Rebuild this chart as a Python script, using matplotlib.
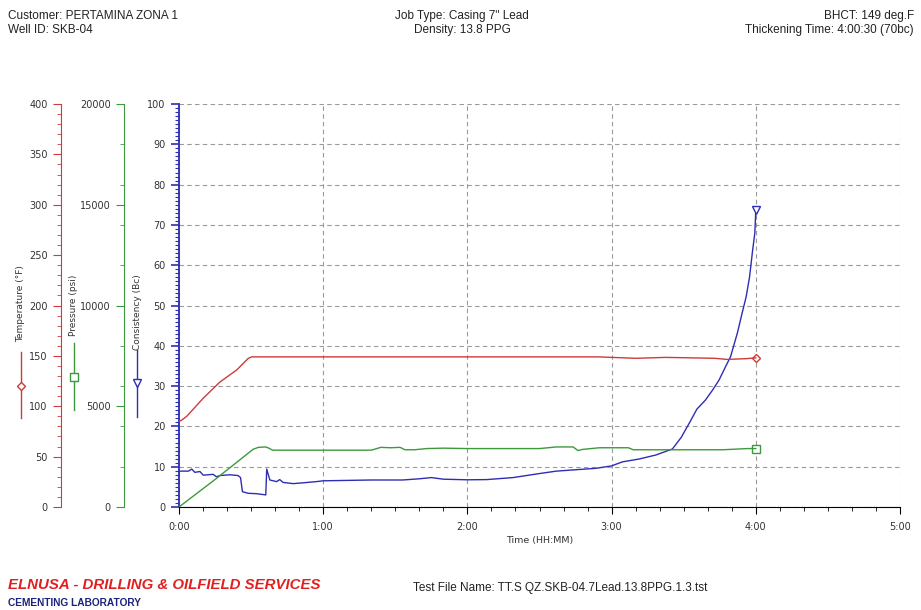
import matplotlib
matplotlib.use('Agg')
import matplotlib.pyplot as plt
from matplotlib.ticker import MultipleLocator, FuncFormatter
from matplotlib.lines import Line2D

# ── Data (time in minutes) ────────────────────────────────────────────────
cons_t = [0, 3.9, 5.3, 6.6, 8.7, 10.1, 14.2, 15.6, 17, 21.2, 24.6, 25.6, 26.4,
          28.8, 32.3, 36.1, 36.5, 37.8, 40.6, 41.9, 43.3, 47.5, 51.6, 57.2, 60,
          70, 80, 93, 100, 105, 110, 120, 128, 139, 150, 157, 164, 173.5, 180,
          184.5, 191.4, 198.4, 205.3, 209, 212.5, 215.5, 219, 222, 224.7, 227.4,
          229.5, 232.3, 234.3, 236, 237.4, 238.7, 239.6, 240]
cons_bc = [8.9, 8.9, 9.4, 8.6, 8.8, 7.9, 8.1, 7.5, 7.8, 8.0, 7.8, 7.3, 3.8,
           3.4, 3.3, 3.0, 9.4, 6.7, 6.3, 6.8, 6.1, 5.8, 6.0, 6.3, 6.5,
           6.6, 6.7, 6.7, 7.0, 7.3, 6.9, 6.75, 6.8, 7.3, 8.3, 8.9, 9.2, 9.6, 10.2,
           11.2, 11.9, 12.9, 14.4, 17.3, 21.0, 24.3, 26.5, 29.0, 31.5, 34.8,
           37.3, 43.1, 48.1, 52.2, 57.1, 63.8, 68.0, 73.7]

temp_t = [0, 1, 3.2, 10.1, 17, 24, 28.8, 30.2, 60, 120, 174.5, 190, 202.5,
          223, 228, 235.7, 240]
temp_f = [85, 86, 90, 108, 124, 136, 147.5, 149, 149, 149, 149, 147.6, 148.5,
          147.6, 146.5, 147.2, 148]

pres_t = [0, 15.6, 30.8, 33, 36, 37, 39, 60, 80, 84, 88, 92, 94, 98, 103,
          110, 120, 150, 157, 164, 166, 168, 175, 187, 189, 216, 226, 236.7, 240]
pres_psi = [0, 1420, 2860, 2960, 2980, 2940, 2820, 2820, 2820, 2960, 2940,
            2960, 2840, 2840, 2900, 2920, 2900, 2900, 2980, 2980, 2800, 2860,
            2940, 2940, 2840, 2840, 2840, 2900, 2900]

header_left = ['Customer: PERTAMINA ZONA 1', 'Well ID: SKB-04']
header_mid = ['Job Type: Casing 7" Lead', 'Density: 13.8 PPG']
header_right = ['BHCT: 149 deg.F', 'Thickening Time: 4:00:30 (70bc)']

C_RED = '#d03a3a'
C_GREEN = '#3d993d'
C_BLUE = '#2e2eb4'
TXT = '#333333'
TICK_FS = 7

fig = plt.figure(figsize=(9.21, 6.1), dpi=100)
W, H = 921, 610
ax = fig.add_axes([179 / W, 1 - 507 / H, 721 / W, 403 / H])

# consistency axis (main)
ax.plot(cons_t, cons_bc, color=C_BLUE, lw=1.0, zorder=4)
ax.plot(cons_t[-1], cons_bc[-1], marker='v', ms=6, mfc='white', mec=C_BLUE,
        mew=1.0, zorder=5)
ax.set_xlim(0, 300)
ax.set_ylim(0, 100)
ax.xaxis.set_major_locator(MultipleLocator(60))
ax.xaxis.set_minor_locator(MultipleLocator(10))
ax.xaxis.set_major_formatter(FuncFormatter(lambda m, p: f'{int(m // 60)}:{int(m % 60):02d}'))
ax.yaxis.set_major_locator(MultipleLocator(10))
ax.yaxis.set_minor_locator(MultipleLocator(1))
ax.grid(True, which='major', ls=(0, (4, 3)), color='#9a9a9a', lw=0.8)
ax.spines['top'].set_visible(False)
ax.spines['right'].set_visible(False)
ax.spines['left'].set_color(C_BLUE)
ax.spines['left'].set_linewidth(1.3)
ax.tick_params(axis='y', which='both', colors=C_BLUE, labelcolor=TXT, labelsize=TICK_FS)
ax.tick_params(axis='y', which='major', length=6, width=1.2)
ax.tick_params(axis='y', which='minor', length=3, width=0.8)
ax.tick_params(axis='x', which='major', length=5, labelsize=TICK_FS, labelcolor=TXT, pad=6)
ax.tick_params(axis='x', which='minor', length=3)
ax.set_xlabel('Time (HH:MM)', fontsize=6.8, color=TXT, labelpad=3)

# temperature and pressure axes, offset to the left
def side_axis(offset, color, top, major, minor):
    a = ax.twinx()
    a.set_ylim(0, top)
    for s in ['top', 'right', 'bottom']:
        a.spines[s].set_visible(False)
    a.spines['left'].set_visible(True)
    a.spines['left'].set_position(('axes', offset))
    a.spines['left'].set_color(color)
    a.yaxis.set_ticks_position('left')
    a.yaxis.set_major_locator(MultipleLocator(major))
    a.yaxis.set_minor_locator(MultipleLocator(minor))
    a.yaxis.set_major_formatter(FuncFormatter(lambda v, p: f'{int(v)}'))
    a.tick_params(axis='y', which='both', colors=color, labelcolor=TXT, labelsize=TICK_FS)
    a.tick_params(axis='y', which='major', length=6)
    a.tick_params(axis='y', which='minor', length=3)
    return a

ax_t = side_axis(-118 / 721, C_RED, 400, 50, 10)
ax_p = side_axis(-55 / 721, C_GREEN, 20000, 5000, 2000)

ax_t.plot(temp_t, temp_f, color=C_RED, lw=1.0, zorder=3)
ax_t.plot(temp_t[-1], temp_f[-1], marker='D', ms=4.5, mfc='white', mec=C_RED, mew=1.0)
ax_p.plot(pres_t, pres_psi, color=C_GREEN, lw=1.0, zorder=3)
ax_p.plot(pres_t[-1], pres_psi[-1], marker='s', ms=5.5, mfc='white', mec=C_GREEN, mew=1.0)

# axis labels with legend sample lines
def axis_tag(x, text, ty, y0, y1, ym, color, marker, ms):
    fig.text(x / W, 1 - ty / H, text, rotation=90, fontsize=6.5, color=TXT,
             ha='center', va='center')
    fig.add_artist(Line2D([x / W, x / W], [1 - y0 / H, 1 - y1 / H], color=color, lw=1.0))
    fig.add_artist(Line2D([x / W], [1 - ym / H], marker=marker, ms=ms, mfc='white',
                          mec=color, mew=1.0, color=color))

axis_tag(21, 'Temperature (°F)', 304, 352, 418, 386, C_RED, 'D', 4.5)
axis_tag(74, 'Pressure (psi)', 305, 343, 410, 377, C_GREEN, 's', 5.5)
axis_tag(137, 'Consistency (Bc)', 312, 350, 417, 383, C_BLUE, 'v', 6)

# header
hdr = dict(fontsize=8.5, family='Liberation Sans', color='#222222', va='center')
for i, (l, m, r) in enumerate(zip(header_left, header_mid, header_right)):
    y = 1 - (16 + 14 * i) / H
    fig.text(8 / W, y, l, ha='left', **hdr)
    fig.text(462 / W, y, m, ha='center', **hdr)
    fig.text(914 / W, y, r, ha='right', **hdr)

# footer
fig.text(8 / W, 1 - 585 / H, 'ELNUSA - DRILLING & OILFIELD SERVICES', fontsize=10.8,
         family='Liberation Sans', weight='bold', style='italic', color='#e02020',
         ha='left', va='center')
fig.text(8 / W, 1 - 603 / H, 'CEMENTING LABORATORY', fontsize=7.3,
         family='Liberation Sans', weight='bold', color='#1a237e', ha='left', va='center')
fig.text(413 / W, 1 - 588 / H, 'Test File Name: TT.S QZ.SKB-04.7Lead.13.8PPG.1.3.tst',
         fontsize=8.5, family='Liberation Sans', color='#222222', ha='left', va='center')

fig.savefig('out.png', dpi=100)
